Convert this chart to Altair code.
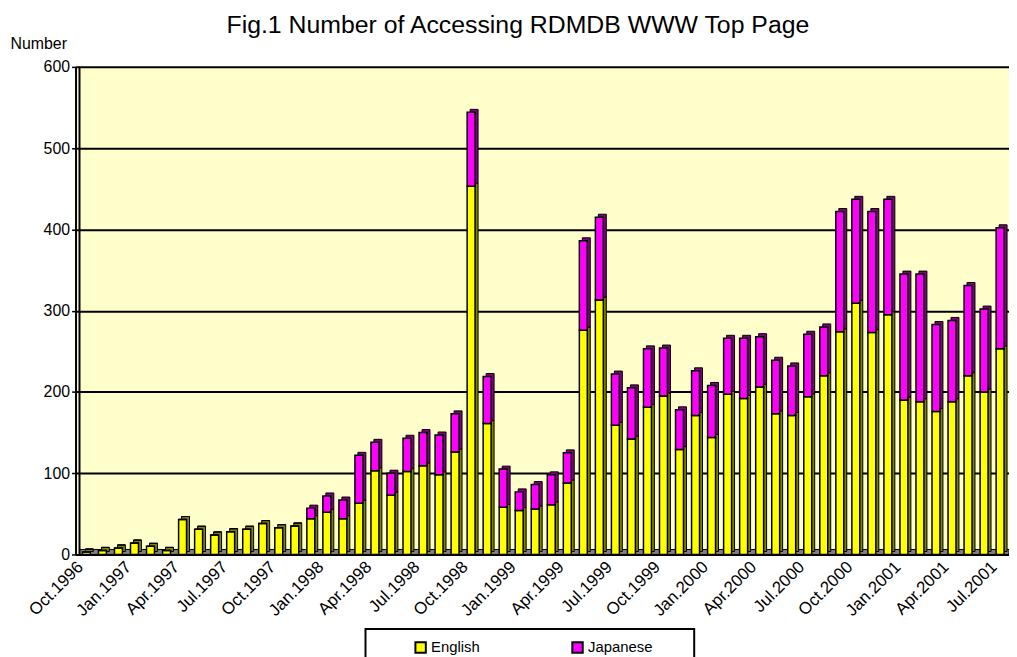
import json
import altair as alt
import pandas as pd

# ---- data ----
MONTHS = [
    "Oct.1996", "Nov.1996", "Dec.1996",
    "Jan.1997", "Feb.1997", "Mar.1997", "Apr.1997", "May.1997", "Jun.1997",
    "Jul.1997", "Aug.1997", "Sep.1997", "Oct.1997", "Nov.1997", "Dec.1997",
    "Jan.1998", "Feb.1998", "Mar.1998", "Apr.1998", "May.1998", "Jun.1998",
    "Jul.1998", "Aug.1998", "Sep.1998", "Oct.1998", "Nov.1998", "Dec.1998",
    "Jan.1999", "Feb.1999", "Mar.1999", "Apr.1999", "May.1999", "Jun.1999",
    "Jul.1999", "Aug.1999", "Sep.1999", "Oct.1999", "Nov.1999", "Dec.1999",
    "Jan.2000", "Feb.2000", "Mar.2000", "Apr.2000", "May.2000", "Jun.2000",
    "Jul.2000", "Aug.2000", "Sep.2000", "Oct.2000", "Nov.2000", "Dec.2000",
    "Jan.2001", "Feb.2001", "Mar.2001", "Apr.2001", "May.2001", "Jun.2001",
    "Jul.2001",
]
ENGLISH = [
    3, 5, 8,
    14, 10, 5, 43, 31, 24,
    28, 31, 38, 33, 35, 44,
    52, 44, 63, 103, 73, 102,
    109, 98, 126, 453, 161, 58,
    54, 56, 61, 88, 276, 313,
    159, 142, 181, 195, 129, 171,
    144, 197, 192, 206, 173, 171,
    194, 220, 274, 309, 273, 295,
    190, 188, 176, 188, 220, 200,
    253,
]
JAPANESE = [
    0, 0, 0,
    0, 0, 0, 0, 0, 0,
    0, 0, 0, 0, 0, 13,
    20, 23, 59, 35, 27, 41,
    41, 49, 47, 91, 58, 47,
    23, 30, 37, 37, 110, 102,
    63, 63, 72, 59, 49, 55,
    64, 69, 74, 62, 66, 61,
    77, 60, 148, 128, 149, 142,
    155, 157, 107, 100, 111, 102,
    149,
]
SERIES = ["English", "Japanese"]
FRONT_COLORS = ["#FFFF00", "#FF00FF"]
SIDE_COLORS = ["#808000", "#800080"]
Y_TICKS = [0, 100, 200, 300, 400, 500, 600]
X_TICKS = list(range(0, len(MONTHS), 3))

rows = []
for i, m in enumerate(MONTHS):
    for k, (s, vals) in enumerate(zip(SERIES, [ENGLISH, JAPANESE])):
        rows.append({"idx": i, "month": m, "series": s, "value": vals[i],
                     "order": k, "side": SIDE_COLORS[k]})
df = pd.DataFrame(rows)

W, H = 940, 491
FONT = "Liberation Sans"

label_expr = "[" + ",".join(json.dumps(m) for m in MONTHS) + "][datum.value]"

x_enc = alt.X(
    "idx:Q",
    scale=alt.Scale(domain=[-0.3677, 57.245], nice=False, zero=False),
    axis=alt.Axis(
        values=X_TICKS, labelExpr=label_expr, labelAngle=-45,
        labelAlign="right", labelBaseline="bottom", labelFontSize=17,
        labelFont=FONT, labelColor="black", labelPadding=16, ticks=False,
        grid=False, domain=True, domainColor="black", domainWidth=2,
        title=None, labelOverlap=False, labelBound=False,
    ),
)
y_enc = alt.Y(
    "value:Q", stack="zero",
    scale=alt.Scale(domain=[0, 600], nice=False),
    axis=alt.Axis(
        values=Y_TICKS, grid=True, gridColor="black", gridWidth=2,
        gridOpacity=1, domainColor="black", domainWidth=2,
        tickColor="black", tickSize=4, tickWidth=1.5,
        labelFontSize=16, labelFont=FONT, labelColor="black", labelPadding=2,
        title="Number", titleAngle=0, titleX=-66, titleY=-23,
        titleAlign="left", titleBaseline="middle", titleFontSize=16,
        titleFont=FONT, titleFontWeight="normal", titleColor="black",
    ),
)

one = pd.DataFrame({"k": [0]})

floor = alt.Chart(one).mark_rect(
    fill="#808080", stroke="black", strokeWidth=1
).encode(x=alt.value(4), x2=alt.value(W), y=alt.value(H - 5), y2=alt.value(H))

wall = alt.Chart(one).mark_rule(stroke="black", strokeWidth=2).encode(
    x=alt.value(4), y=alt.value(0), y2=alt.value(H)
)

side = alt.Chart(df).mark_bar(
    width=8, xOffset=3, yOffset=-3, stroke="black", strokeWidth=1
).encode(
    x=x_enc, y=y_enc,
    color=alt.Color("side:N", scale=None),
    order=alt.Order("order:Q"),
)

front = alt.Chart(df).mark_bar(
    width=8, stroke="black", strokeWidth=1.5
).encode(
    x=x_enc, y=y_enc,
    color=alt.Color(
        "series:N",
        scale=alt.Scale(domain=SERIES, range=FRONT_COLORS),
        legend=alt.Legend(
            orient="none", legendX=340, legendY=577, direction="horizontal",
            title=None, symbolType="square", symbolSize=110,
            symbolStrokeColor="black", symbolStrokeWidth=2,
            labelFontSize=15, labelFont=FONT, labelColor="black",
            columnPadding=88, padding=0, labelOffset=3,
        ),
    ),
    order=alt.Order("order:Q"),
)

legend_frame = alt.Chart(one).mark_rect(
    fill="white", stroke="black", strokeWidth=2
).encode(x=alt.value(292), x2=alt.value(623), y=alt.value(566), y2=alt.value(640))

chart = alt.layer(floor, wall, side, front, legend_frame).resolve_scale(
    color="independent"
).properties(
    width=W, height=H,
    autosize=alt.AutoSizeParams(type="none"),
    padding={"left": 68, "top": 57, "right": 0, "bottom": 101},
    title=alt.TitleParams(
        "Fig.1 Number of Accessing RDMDB WWW Top Page",
        fontSize=25, font=FONT, fontWeight="normal", color="black",
        anchor="start", dx=218, dy=6,
    ),
).configure(font=FONT, background="white").configure_view(
    stroke=None, fill="#FFFFCC"
)

chart.save("out.html", embed_options={"renderer": "svg", "actions": False})
